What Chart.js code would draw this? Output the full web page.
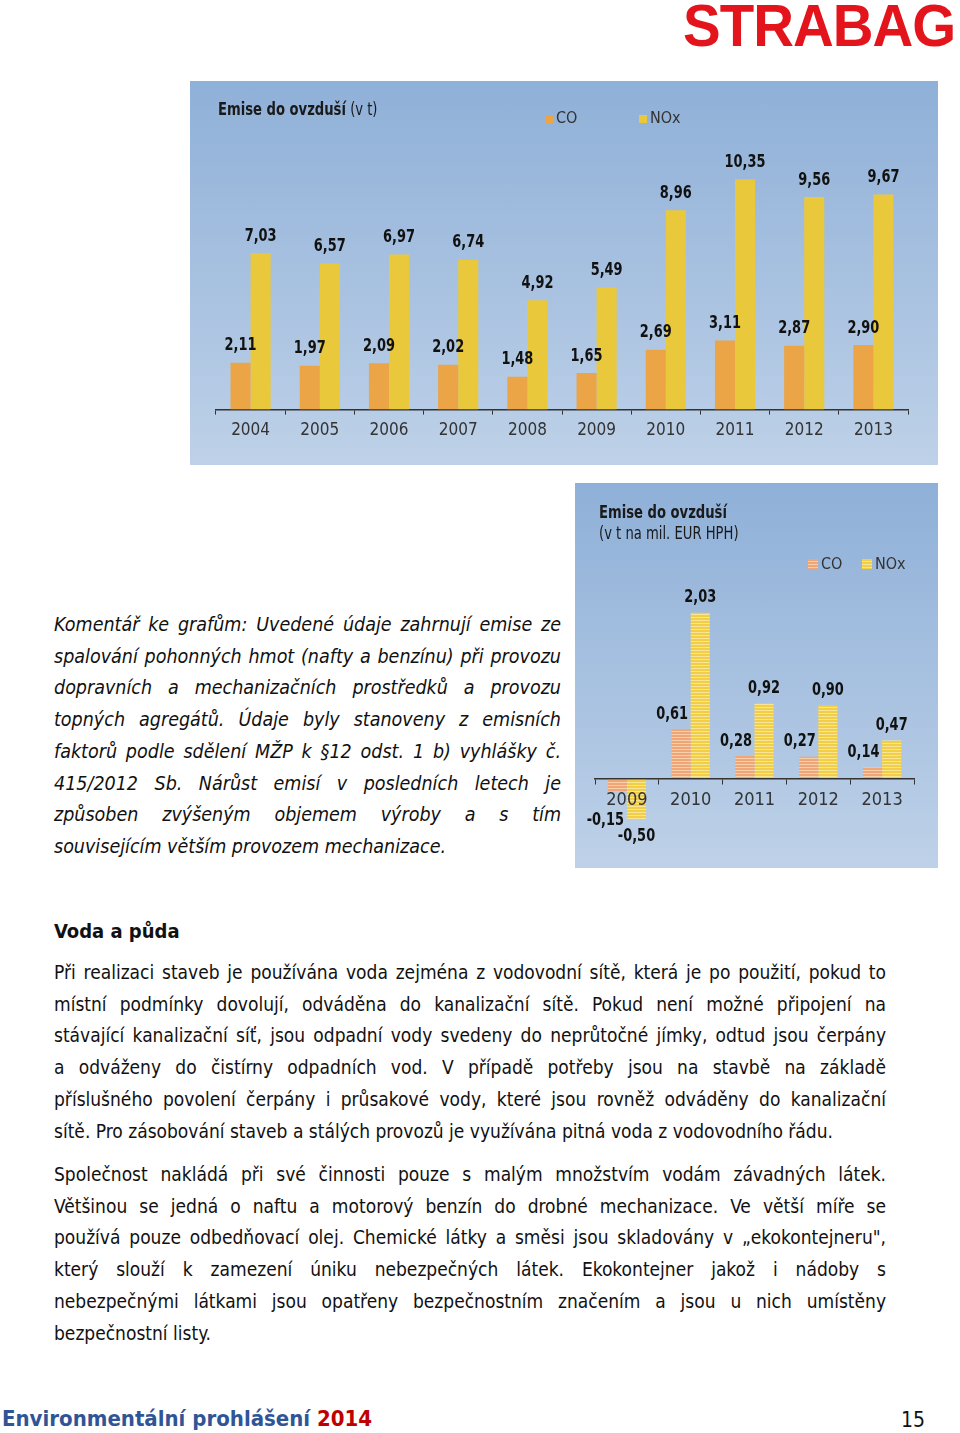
<!DOCTYPE html>
<html lang="cs">
<head>
<meta charset="utf-8">
<script src="https://cdn.jsdelivr.net/npm/chart.js@4.4.1/dist/chart.umd.min.js"></script>
<style>
  html, body { margin: 0; padding: 0; background: #fff; }
  body { width: 960px; height: 1433px; position: relative; overflow: hidden; font-family: 'DejaVu Sans Condensed', 'DejaVu Sans', sans-serif; color: #111; }
  .abs { position: absolute; }
  .logo { left: 683px; top: -4px; font-family: 'Liberation Sans', Arial, sans-serif; font-weight: bold; font-size: 60px; line-height: 59px; color: #e3141b; letter-spacing: -1px; transform: scaleX(0.94); transform-origin: left top; }
  .box { background: linear-gradient(#8fb0d8, #bed1e8); }
  .box canvas { position: absolute; left: 0; top: 0; }
  .ctitle { font-family: 'DejaVu Sans Condensed', sans-serif; font-size: 17px; color: #1a1a1a; white-space: nowrap; transform: scaleX(0.86); transform-origin: left top; }
  .ctitle b { font-weight: bold; }
  .leg { font-family: 'DejaVu Sans Condensed', sans-serif; font-size: 16px; color: #333; white-space: nowrap; }
  .sw { display: inline-block; width: 8px; height: 8px; margin-right: 3px; }
  .italic { left: 54px; top: 609px; width: 507px; font-style: italic; font-size: 19.5px; line-height: 31.7px; }
  .para { left: 54px; width: 832px; font-size: 19px; line-height: 31.7px; }
  .ln { white-space: nowrap; text-align: justify; text-align-last: justify; }
  .ln.last { text-align-last: left; }
  .foot { left: 2px; top: 1406px; line-height: 26px; font-weight: bold; font-size: 22px; color: #2f5597; white-space: nowrap; }
  .foot span { color: #c00000; }
  .pnum { left: 870px; width: 55px; text-align: right; top: 1408px; line-height: 25px; font-size: 21px; }
</style>
</head>
<body>

<div class="abs logo">STRABAG</div>

<div class="abs box" style="left:190px; top:81px; width:748px; height:384px;">
  <canvas id="chart1" width="748" height="384"></canvas>
  <div class="abs ctitle" style="left:28px; top:18px;"><b>Emise do ovzduší</b> (v t)</div>
  <div class="abs leg" style="left:355px; top:27px;"><span class="sw" style="background:#eba546"></span>CO</div>
  <div class="abs leg" style="left:449px; top:27px;"><span class="sw" style="background:#e9c83c"></span>NOx</div>
</div>

<div class="abs box" style="left:575px; top:483px; width:363px; height:385px;">
  <canvas id="chart2" width="363" height="385"></canvas>
  <div class="abs ctitle" style="left:24px; top:19px; line-height:21px;"><b>Emise do ovzduší</b><br>(v t na mil. EUR HPH)</div>
  <div class="abs leg" style="left:233px; top:71px;"><span class="sw" style="width:10px;height:10px;background:repeating-linear-gradient(#f0a578 0 2px, #f7d0a8 2px 3px)"></span>CO</div>
  <div class="abs leg" style="left:287px; top:71px;"><span class="sw" style="width:10px;height:10px;background:repeating-linear-gradient(#f2cd46 0 2px, #f8e696 2px 3px)"></span>NOx</div>
</div>

<div class="abs italic">
  <div class="ln">Komentář ke grafům: Uvedené údaje zahrnují emise ze</div>
  <div class="ln">spalování pohonných hmot (nafty a benzínu) při provozu</div>
  <div class="ln">dopravních a mechanizačních prostředků a provozu</div>
  <div class="ln">topných agregátů. Údaje byly stanoveny z emisních</div>
  <div class="ln">faktorů podle sdělení MŽP k §12 odst. 1 b) vyhlášky č.</div>
  <div class="ln">415/2012 Sb. Nárůst emisí v posledních letech je</div>
  <div class="ln">způsoben zvýšeným objemem výroby a s tím</div>
  <div class="ln last">souvisejícím větším provozem mechanizace.</div>
</div>

<div class="abs" style="left:54px; top:919px; font-weight:bold; font-size:20px;">Voda a půda</div>

<div class="abs para" style="top:957px;">
  <div class="ln">Při realizaci staveb je používána voda zejména z vodovodní sítě, která je po použití, pokud to</div>
  <div class="ln">místní podmínky dovolují, odváděna do kanalizační sítě. Pokud není možné připojení na</div>
  <div class="ln">stávající kanalizační síť, jsou odpadní vody svedeny do neprůtočné jímky, odtud jsou čerpány</div>
  <div class="ln">a odváženy do čistírny odpadních vod. V případě potřeby jsou na stavbě na základě</div>
  <div class="ln">příslušného povolení čerpány i průsakové vody, které jsou rovněž odváděny do kanalizační</div>
  <div class="ln last">sítě. Pro zásobování staveb a stálých provozů je využívána pitná voda z vodovodního řádu.</div>
</div>

<div class="abs para" style="top:1159px;">
  <div class="ln">Společnost nakládá při své činnosti pouze s malým množstvím vodám závadných látek.</div>
  <div class="ln">Většinou se jedná o naftu a motorový benzín do drobné mechanizace. Ve větší míře se</div>
  <div class="ln">používá pouze odbedňovací olej. Chemické látky a směsi jsou skladovány v „ekokontejneru",</div>
  <div class="ln">který slouží k zamezení úniku nebezpečných látek. Ekokontejner jakož i nádoby s</div>
  <div class="ln">nebezpečnými látkami jsou opatřeny bezpečnostním značením a jsou u nich umístěny</div>
  <div class="ln last">bezpečnostní listy.</div>
</div>

<div class="abs foot">Environmentální prohlášení <span>2014</span></div>
<div class="abs pnum">15</div>

<script>
var years = ["2004", "2005", "2006", "2007", "2008", "2009", "2010", "2011", "2012", "2013"];
var coTons = [2.11, 1.97, 2.09, 2.02, 1.48, 1.65, 2.69, 3.11, 2.87, 2.90];
var noxTons = [7.03, 6.57, 6.97, 6.74, 4.92, 5.49, 8.96, 10.35, 9.56, 9.67];

var years2 = ["2009", "2010", "2011", "2012", "2013"];
var coPerMil = [-0.15, 0.61, 0.28, 0.27, 0.14];
var noxPerMil = [-0.50, 2.03, 0.92, 0.90, 0.47];

var chartFont = "'DejaVu Sans Condensed', sans-serif";

// writes the value above (or below) every bar, with a decimal comma,
// squeezed a bit sideways to look like the narrow font of the original
var valueLabels = {
  id: 'valueLabels',
  afterDatasetsDraw: function(chart, args, opts) {
    var ctx = chart.ctx;
    ctx.save();
    ctx.font = 'bold ' + opts.size + 'px ' + chartFont;
    ctx.fillStyle = '#111';
    ctx.textAlign = 'center';
    ctx.textBaseline = 'middle';
    chart.data.datasets.forEach(function(ds, i) {
      chart.getDatasetMeta(i).data.forEach(function(bar, j) {
        var v = ds.data[j];
        var y = v >= 0 ? bar.y - opts.above : bar.y + opts.below[i];
        var x = bar.x + opts.dx[i] + (v < 0 ? opts.negDx[i] : 0);
        ctx.save();
        ctx.translate(x, y);
        ctx.scale(0.8, 1);
        ctx.fillText(v.toFixed(2).replace('.', ','), 0, 0);
        ctx.restore();
      });
    });
    ctx.restore();
  }
};

function stripes(c1, c2) {
  var p = document.createElement('canvas');
  p.width = 4; p.height = 3;
  var g = p.getContext('2d');
  g.fillStyle = c1; g.fillRect(0, 0, 4, 2);
  g.fillStyle = c2; g.fillRect(0, 2, 4, 1);
  return g.createPattern(p, 'repeat');
}

new Chart("chart1", {
  type: 'bar',
  data: {
    labels: years,
    datasets: [
      { label: 'CO', data: coTons, backgroundColor: '#eba546' },
      { label: 'NOx', data: noxTons, backgroundColor: '#e9c83c' }
    ]
  },
  options: {
    responsive: false,
    animation: false,
    layout: { padding: { left: 26, right: 30, top: 84, bottom: 18 } },
    datasets: { bar: { categoryPercentage: 0.58, barPercentage: 1 } },
    plugins: {
      legend: { display: false },
      tooltip: { enabled: false },
      valueLabels: { size: 18, above: 17, below: [16, 16], dx: [0, 0], negDx: [0, 0] }
    },
    scales: {
      x: {
        grid: { display: true, drawOnChartArea: false, tickLength: 5, color: '#333', offset: true },
        border: { display: true, color: '#333', width: 1.5 },
        ticks: { color: '#333', padding: 6, font: { family: chartFont, size: 17 } }
      },
      y: { display: false, min: 0, max: 11 }
    }
  },
  plugins: [valueLabels]
});

new Chart("chart2", {
  type: 'bar',
  data: {
    labels: years2,
    datasets: [
      { label: 'CO', data: coPerMil, backgroundColor: stripes('#f0a578', '#f7d0a8') },
      { label: 'NOx', data: noxPerMil, backgroundColor: stripes('#f2cd46', '#f8e696') }
    ]
  },
  options: {
    responsive: false,
    animation: false,
    layout: { padding: { left: 20, right: 24, top: 106, bottom: 40 } },
    datasets: { bar: { categoryPercentage: 0.6, barPercentage: 1 } },
    plugins: {
      legend: { display: false },
      tooltip: { enabled: false },
      valueLabels: { size: 18, above: 15, below: [29, 17], dx: [-9, 0], negDx: [-3, 0] }
    },
    scales: {
      x: {
        position: { y: 0 },
        grid: { display: true, drawOnChartArea: false, tickLength: 5, color: '#333', offset: true },
        border: { display: true, color: '#333', width: 1.5, z: 1 },
        ticks: { color: '#333', padding: 6, z: 1, font: { family: chartFont, size: 18 } }
      },
      y: { display: false, min: -0.6, max: 2.32 }
    }
  },
  plugins: [valueLabels]
});
</script>
</body>
</html>
